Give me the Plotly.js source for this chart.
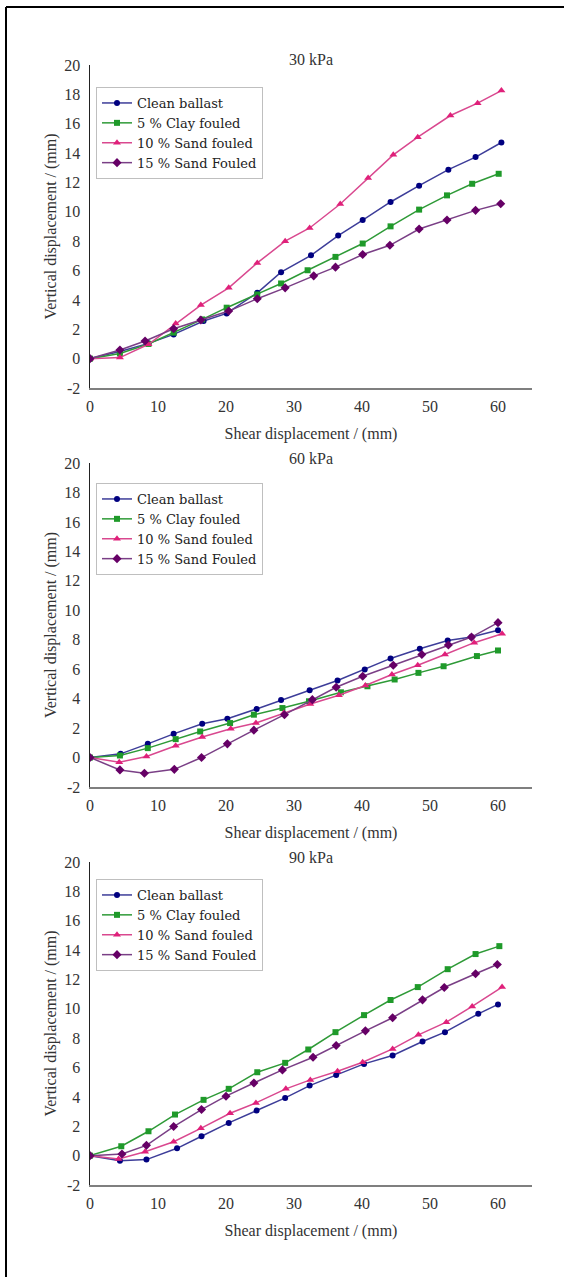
<!DOCTYPE html>
<html>
<head>
<meta charset="utf-8">
<script src="https://cdn.plot.ly/plotly-3.0.1.min.js"></script>
<style>
html,body{margin:0;padding:0;background:#fff;}
#chart{width:564px;height:1277px;}
</style>
</head>
<body>
<div id="chart"></div>
<script>
// ---- Data ----
const seriesNames = ["Clean ballast", "5 % Clay fouled", "10 % Sand fouled", "15 % Sand Fouled"];
const panelTitles = ["30 kPa", "60 kPa", "90 kPa"];
const xTitle = "Shear displacement / (mm)";
const yTitle = "Vertical displacement / (mm)";

// 30 kPa
const p1CleanX = [0,4.4,8.6,12.3,16.7,20.1,24.6,28.1,32.5,36.5,40.1,44.2,48.4,52.7,56.7,60.5];
const p1CleanY = [0,0.48,1.04,1.65,2.56,3.08,4.48,5.89,7.04,8.38,9.44,10.67,11.78,12.87,13.73,14.72];
const p1ClayX  = [0,4.4,8.6,12.3,16.5,20.1,24.6,28.1,32.0,36.1,40.1,44.2,48.4,52.5,56.2,60.1];
const p1ClayY  = [0,0.35,1.0,1.77,2.67,3.47,4.37,5.12,6.02,6.93,7.84,9.01,10.15,11.12,11.91,12.59];
const p1Sand10X = [0,4.4,8.6,12.6,16.3,20.4,24.6,28.7,32.3,36.8,40.9,44.6,48.2,53.0,57.0,60.5];
const p1Sand10Y = [0,0.07,0.98,2.4,3.65,4.82,6.52,8.0,8.9,10.53,12.3,13.88,15.08,16.56,17.4,18.26];
const p1Sand15X = [0,4.4,8.1,12.3,16.3,20.4,24.6,28.7,32.9,36.1,40.1,44.1,48.4,52.5,56.7,60.4];
const p1Sand15Y = [0,0.59,1.2,2.04,2.63,3.24,4.08,4.82,5.64,6.23,7.09,7.72,8.83,9.44,10.1,10.55];

// 60 kPa
const p2CleanX = [0,4.5,8.5,12.3,16.5,20.2,24.5,28.1,32.3,36.4,40.4,44.2,48.5,52.6,56.1,60.0];
const p2CleanY = [0,0.25,0.93,1.61,2.3,2.64,3.3,3.91,4.57,5.23,5.98,6.73,7.39,7.95,8.18,8.64];
const p2ClayX  = [0,4.4,8.5,12.6,16.2,20.6,24.1,28.3,32.2,36.9,40.8,44.8,48.3,52.0,56.9,60.0];
const p2ClayY  = [0,0.14,0.64,1.25,1.77,2.34,2.91,3.36,3.82,4.43,4.84,5.3,5.75,6.2,6.89,7.27];
const p2Sand10X = [0,4.3,8.3,12.6,16.5,20.7,24.4,28.5,32.4,36.6,40.5,44.4,48.2,52.2,56.5,60.6];
const p2Sand10Y = [0,-0.32,0.07,0.8,1.39,1.95,2.34,3.02,3.64,4.23,4.89,5.64,6.27,7.0,7.8,8.41];
const p2Sand15X = [0,4.4,8.0,12.4,16.4,20.2,24.1,28.6,32.7,36.2,40.1,44.6,48.8,52.7,56.1,60.0];
const p2Sand15Y = [0,-0.84,-1.07,-0.8,0,0.93,1.86,2.91,3.93,4.77,5.52,6.27,7.0,7.64,8.18,9.16];

// 90 kPa
const p3CleanX = [0,4.4,8.3,12.8,16.4,20.4,24.5,28.7,32.3,36.2,40.3,44.5,48.9,52.2,57.1,60.0];
const p3CleanY = [0,-0.34,-0.27,0.5,1.32,2.23,3.07,3.93,4.77,5.5,6.25,6.82,7.77,8.41,9.66,10.3];
const p3ClayX  = [0,4.6,8.6,12.5,16.7,20.4,24.6,28.7,32.1,36.1,40.3,44.2,48.2,52.6,56.7,60.2];
const p3ClayY  = [0,0.64,1.66,2.8,3.8,4.55,5.68,6.32,7.23,8.41,9.57,10.6,11.48,12.7,13.73,14.27];
const p3Sand10X = [0,4.2,8.1,12.3,16.3,20.6,24.4,28.8,32.4,36.4,40.1,44.5,48.3,52.4,56.2,60.6];
const p3Sand10Y = [0,-0.23,0.27,0.95,1.86,2.89,3.59,4.55,5.16,5.75,6.36,7.27,8.23,9.09,10.16,11.48];
const p3Sand15X = [0,4.7,8.3,12.3,16.4,20.0,24.1,28.3,32.8,36.2,40.5,44.5,48.9,52.1,56.7,59.9];
const p3Sand15Y = [0,0.11,0.7,1.98,3.14,4.05,4.95,5.84,6.7,7.5,8.5,9.39,10.61,11.45,12.39,13.02];

const xTickVals = [0,10,20,30,40,50,60];
const xTickText = ["0","10","20","30","40","50","60"];
const yTickVals = [-2,0,2,4,6,8,10,12,14,16,18,20];
const yTickText = ["-2","0","2","4","6","8","10","12","14","16","18","20"];

// ---- Styles ----
const markerColors = ["#000080", "#1f9a2a", "#e0207a", "#660066"];
const lineColors   = ["#3d3d99", "#2e9a37", "#d9488f", "#7a3f86"];
const symbols      = ["circle", "square", "triangle-up", "diamond"];
const markerSizes  = [6, 6, 7, 7];
const FONT = "Liberation Serif";
const LEGEND_FONT = "DejaVu Serif";

const panels = [
  [[p1CleanX,p1CleanY],[p1ClayX,p1ClayY],[p1Sand10X,p1Sand10Y],[p1Sand15X,p1Sand15Y]],
  [[p2CleanX,p2CleanY],[p2ClayX,p2ClayY],[p2Sand10X,p2Sand10Y],[p2Sand15X,p2Sand15Y]],
  [[p3CleanX,p3CleanY],[p3ClayX,p3ClayY],[p3Sand10X,p3Sand10Y],[p3Sand15X,p3Sand15Y]]
];

const H = 1277;
const plotTop = [65, 463, 862];
const plotBot = [388, 787, 1185];
const legendTop = [87, 483, 879];

const traces = [];
panels.forEach((panel, p) => {
  panel.forEach((s, i) => {
    traces.push({
      x: s[0], y: s[1],
      type: "scatter", mode: "lines+markers",
      name: seriesNames[i],
      xaxis: p === 0 ? "x" : "x" + (p + 1),
      yaxis: p === 0 ? "y" : "y" + (p + 1),
      legend: p === 0 ? "legend" : "legend" + (p + 1),
      line: {color: lineColors[i], width: 1.5},
      marker: {color: markerColors[i], symbol: symbols[i], size: markerSizes[i]}
    });
  });
});

const layout = {
  width: 564, height: H,
  margin: {l: 90, r: 32, t: 0, b: 0},
  paper_bgcolor: "#fff", plot_bgcolor: "#fff",
  font: {family: FONT, size: 16, color: "#333"},
  showlegend: true,
  annotations: [],
  shapes: [
    {type: "line", xref: "paper", yref: "paper",
     x0: (6 - 90) / 442, x1: (600 - 90) / 442, y0: (H - 7) / H, y1: (H - 7) / H,
     line: {color: "#000", width: 2}},
    {type: "line", xref: "paper", yref: "paper",
     x0: (6 - 90) / 442, x1: (6 - 90) / 442, y0: (H - 7) / H, y1: -0.05,
     line: {color: "#000", width: 2}}
  ]
};

for (let p = 0; p < 3; p++) {
  const xk = p === 0 ? "xaxis" : "xaxis" + (p + 1);
  const yk = p === 0 ? "yaxis" : "yaxis" + (p + 1);
  const yid = p === 0 ? "y" : "y" + (p + 1);
  const xid = p === 0 ? "x" : "x" + (p + 1);
  const lk = p === 0 ? "legend" : "legend" + (p + 1);
  layout[xk] = {
    anchor: yid, domain: [0, 1], range: [0, 65],
    tickmode: "array", tickvals: xTickVals, ticktext: xTickText,
    ticks: "", ticklabelstandoff: 3,
    showgrid: false, zeroline: false,
    showline: true, linecolor: "#7f7f7f", linewidth: 2,
    tickfont: {family: FONT, size: 16, color: "#333"},
    title: {text: xTitle, font: {family: FONT, size: 16, color: "#333"}, standoff: 14}
  };
  layout[yk] = {
    anchor: xid,
    domain: [(H - plotBot[p]) / H, (H - plotTop[p]) / H],
    range: [-2, 20],
    tickmode: "array", tickvals: yTickVals, ticktext: yTickText,
    ticks: "", ticklabelstandoff: 5,
    showgrid: false, zeroline: false,
    showline: true, linecolor: "#222", linewidth: 1.5,
    tickfont: {family: FONT, size: 16, color: "#333"},
    title: {text: yTitle, font: {family: FONT, size: 16, color: "#333"}, standoff: 3}
  };
  layout[lk] = {
    x: (96 - 90) / 442, y: (H - legendTop[p]) / H,
    xanchor: "left", yanchor: "top",
    bgcolor: "#fff", bordercolor: "#bfbfbf", borderwidth: 1,
    itemwidth: 30, tracegroupgap: 0,
    font: {family: LEGEND_FONT, size: 13, color: "#222"}
  };
  layout.annotations.push({
    text: panelTitles[p], xref: "paper", yref: "paper",
    x: 0.5, y: (H - (plotTop[p] - 5)) / H, xanchor: "center", yanchor: "middle",
    showarrow: false, font: {family: FONT, size: 16, color: "#333"}
  });
}

Plotly.newPlot("chart", traces, layout, {displayModeBar: false, staticPlot: true});
</script>
</body>
</html>
